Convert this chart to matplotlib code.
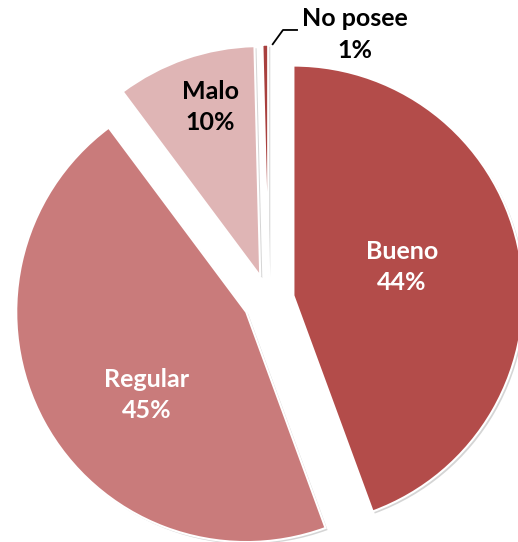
import matplotlib
matplotlib.use("Agg")
import matplotlib.pyplot as plt
import matplotlib.patheffects as pe
import numpy as np

categories = ["Bueno", "Regular", "Malo", "No posee"]
values = [44.4, 45.4, 9.8, 0.4]
pct_labels = ["44%", "45%", "10%", "1%"]
colors = ["#B34C4A", "#C97B7B", "#DFB5B5", "#A8403E"]

W, H = 518, 542
fig = plt.figure(figsize=(W / 100, H / 100), dpi=100)
ax = fig.add_axes([0, 0, 1, 1])

R = 230.0
cx, cy = 268.5, 300.0

explode = [0.11, 0.11, 0.11, 0.11]
wedges, _ = ax.pie(values, colors=colors, startangle=90, counterclock=False,
                   explode=explode, radius=1.0,
                   wedgeprops=dict(edgecolor="white", linewidth=1.5))
for w in wedges:
    w.set_path_effects([pe.SimplePatchShadow(offset=(1.5, -1.5), shadow_rgbFace="#888888", alpha=0.35),
                        pe.Normal()])

ax.axis("off")
ax.set_aspect("auto")
ax.set_xlim(-cx / R, (W - cx) / R)
ax.set_ylim(-(H - cy) / R, cy / R)

fontfam = ["Lato", "DejaVu Sans"]
txt_pos = {0: (0.58, 0.143), 1: (-0.528, -0.413), 2: (-0.254, 0.839)}
txt_col = {0: "white", 1: "white", 2: "black"}
for i in range(3):
    x, y = txt_pos[i]
    ax.text(x, y, f"{categories[i]}\n{pct_labels[i]}", ha="center", va="center",
            fontsize=18, fontweight="bold", color=txt_col[i], family=fontfam,
            linespacing=1.45)

ax.text(0.376, 1.155, f"{categories[3]}\n{pct_labels[3]}", ha="center", va="center",
        fontsize=18, fontweight="bold", color="black", family=fontfam, linespacing=1.45)
ax.plot([0.016, 0.063, 0.128], [1.109, 1.174, 1.174], color="black", lw=1.3,
        solid_capstyle="butt")

fig.savefig("out.png", dpi=100)
